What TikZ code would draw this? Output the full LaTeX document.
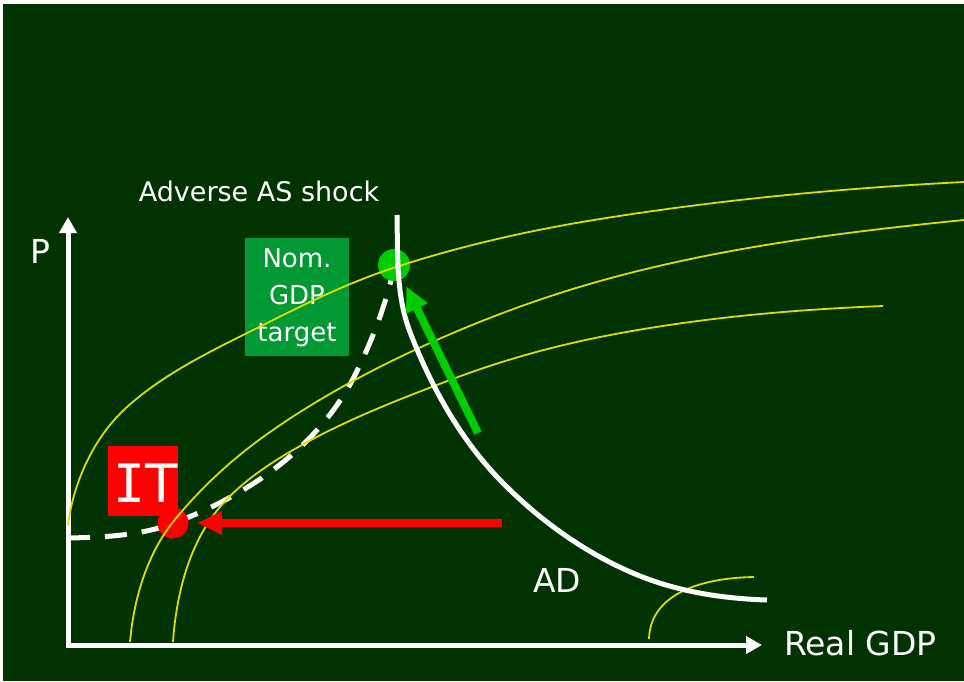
\documentclass[tikz,border=0pt]{standalone}
\usepackage{fontspec}
\setmainfont{DejaVu Sans}
\newfontfamily\itmono{DejaVu Sans Mono}
\usetikzlibrary{arrows.meta}
\definecolor{bgg}{HTML}{003300}
\definecolor{boxgreen}{HTML}{009933}
\definecolor{dotgreen}{HTML}{00CC00}
\definecolor{redc}{HTML}{FF0000}
\definecolor{yelc}{HTML}{DDDD00}
\begin{document}
\begin{tikzpicture}[x=1pt,y=-1pt,
  axis/.style={white, line width=5pt, line join=miter,
    {Triangle[length=16pt,width=17pt]}-{Triangle[length=16pt,width=17pt]}},
  yelcurve/.style={yelc, line width=1.8pt},
  adcurve/.style={white, line width=5pt},
  dashcurve/.style={white, line width=5pt, dash pattern=on 22pt off 15pt},
  movearrow/.style={line width=8pt, -{Triangle[length=25pt,width=22pt]}},
  biglabel/.style={white, font=\fontsize{33}{40}\selectfont, inner sep=0pt},
  boxlabel/.style={white, font=\fontsize{26}{37}\selectfont, inner sep=0pt, align=center},
  dot/.style={circle, inner sep=0pt, minimum size=#1}
]
\useasboundingbox (0,0) rectangle (964,681);
\fill[white] (0,0) rectangle (964,681);
\fill[bgg] (3,4) rectangle (964,681);

% axes
\coordinate (ytop) at (68,217);
\coordinate (origin) at (68,645);
\coordinate (xend) at (762,645);
\draw[axis] (ytop) -- (origin) -- (xend);

% dashed path
\draw[dashcurve] (68,538) .. controls (103.7,537.3) and (140.6,535.7) .. (174,523)
  .. controls (212.5,508.4) and (249.8,488.8) .. (282,463)
  .. controls (311.8,439.2) and (338,409.1) .. (355,375)
  .. controls (372,341) and (385.8,305.1) .. (394,268);

% dots
\node[dot=31pt, fill=redc] (itdot) at (173,523) {};
\node[dot=32pt, fill=dotgreen] (ngdot) at (394,265) {};

% boxes
\node[fill=boxgreen, minimum width=104pt, minimum height=118pt, inner sep=0pt] (nombox) at (297,297) {};
\node[boxlabel] (nomtext) at (297,298) {Nom.\\GDP\\target};
\node[fill=redc, minimum width=70pt, minimum height=70pt, inner sep=0pt] (itbox) at (143,481) {};
\node[white, font=\fontsize{53}{60}\selectfont, inner sep=0pt, anchor=base] (ittext) at (146,502) {{\itmono I}T};

% yellow curves
\draw[yelcurve] (68,525) .. controls (73.5,481.4) and (94.3,436.4) .. (127,407)
  .. controls (161.4,376) and (203.6,354.7) .. (245,334)
  .. controls (293.3,309.9) and (341.7,284.9) .. (393,268)
  .. controls (460.4,245.8) and (530,230.2) .. (600,219)
  .. controls (720.4,199.7) and (842.2,188.1) .. (964,182);
\draw[yelcurve] (130,642) .. controls (133.6,600.4) and (146.25,555.4) .. (173,522)
  .. controls (200.6,487.6) and (233.9,457.3) .. (270,432)
  .. controls (320,397) and (374.4,368) .. (430,343)
  .. controls (485,318.3) and (541.9,297.3) .. (600,281)
  .. controls (718.4,247.8) and (841.6,232.2) .. (964,220);
\draw[yelcurve] (173,642) .. controls (175.8,601.4) and (185.4,558) .. (208,523)
  .. controls (228.2,491.7) and (260.7,468.7) .. (293,450)
  .. controls (342.6,421.2) and (396.4,400.3) .. (450,380)
  .. controls (498.6,361.5) and (549,347.2) .. (600,337)
  .. controls (693.1,318.4) and (788.2,309.8) .. (883,306);
\draw[yelcurve] (649,639) .. controls (650,597) and (695,578) .. (754,577);

% AD curve
\draw[adcurve] (397,215) .. controls (397.8,254.2) and (395.9,295.4) .. (410,332)
  .. controls (430.7,385.8) and (459.8,438.6) .. (500,480)
  .. controls (539.5,520.6) and (587.5,555) .. (640,576)
  .. controls (680,592) and (723.9,598.7) .. (767,600);

% movement arrows
\coordinate (redtail) at (502,523);
\coordinate (redtip) at (197,523);
\draw[movearrow, redc] (redtail) -- (redtip);
\coordinate (greentail) at (478,433);
\coordinate (greentip) at (406,286);
\draw[movearrow, dotgreen] (greentail) -- (greentip);

% labels
\node[biglabel, anchor=base west] (plabel) at (30,263) {P};
\node[biglabel, anchor=base west] (xlabel) at (784,655) {Real GDP};
\node[biglabel, anchor=base] (adlabel) at (557,592) {AD};
\node[white, font=\fontsize{27}{32}\selectfont, inner sep=0pt, anchor=base] (shock) at (259,201) {Adverse AS shock};
\end{tikzpicture}
\end{document}
